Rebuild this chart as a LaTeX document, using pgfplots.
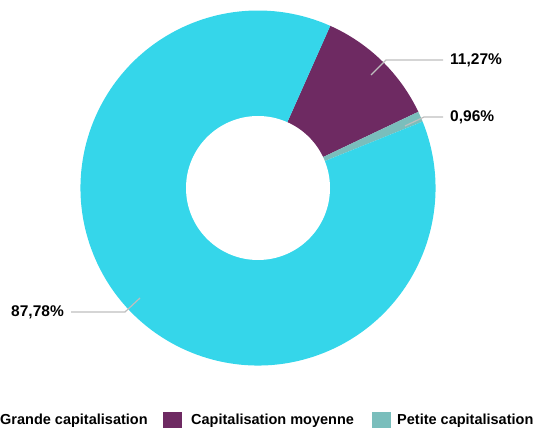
\documentclass[border=0pt]{standalone}
\usepackage{fontspec}
\setmainfont{Liberation Sans}
\usepackage{pgfplots}
\usepackage{pgfplotstable}
\pgfplotsset{compat=1.18}
\definecolor{cgrande}{HTML}{35D6EA}
\definecolor{cmoy}{HTML}{6E2A62}
\definecolor{cpetite}{HTML}{7ABEBC}
\definecolor{cline}{HTML}{BEBEBE}
\pgfplotstableread{
name value
Grande 87.78
Moyenne 11.27
Petite 0.96
}\datatable
\begin{document}
\begin{tikzpicture}
\pgfplotstablegetelem{0}{value}\of\datatable \let\vG\pgfplotsretval
\pgfplotstablegetelem{1}{value}\of\datatable \let\vM\pgfplotsretval
\pgfplotstablegetelem{2}{value}\of\datatable \let\vP\pgfplotsretval
\pgfmathsetmacro{\aS}{66}
\pgfmathsetmacro{\aA}{\aS-\vM*3.6}
\pgfmathsetmacro{\aB}{\aA-\vP*3.6}
\pgfmathsetmacro{\aC}{\aB-\vG*3.6}
\begin{axis}[
  width=535pt, height=428pt, scale only axis,
  xmin=0, xmax=535, ymin=0, ymax=428,
  hide axis, clip=false,
]
\addplot[draw=none] coordinates {(0,0)};
% slices
\fill[cmoy] (axis cs:258,240) -- ++(\aS:177.5pt) arc[start angle=\aS, end angle=\aA, radius=177.5pt] -- cycle;
\fill[cpetite] (axis cs:258,240) -- ++(\aA:177.5pt) arc[start angle=\aA, end angle=\aB, radius=177.5pt] -- cycle;
\fill[cgrande] (axis cs:258,240) -- ++(\aB:177.5pt) arc[start angle=\aB, end angle=\aC, radius=177.5pt] -- cycle;
\fill[white] (axis cs:258,240) circle[radius=72pt];
% leader lines
\draw[cline, line width=1.2pt] (axis cs:371,353) -- (axis cs:386,368) -- (axis cs:443,368);
\draw[cline, line width=1.2pt] (axis cs:405,302) -- (axis cs:424,311) -- (axis cs:443,311);
\draw[cline, line width=1.2pt] (axis cs:140,130) -- (axis cs:125,116) -- (axis cs:71,116);
\node[anchor=west, inner sep=0pt, font=\fontsize{15.5}{17}\selectfont\bfseries] at (axis cs:450,368) {11,27\%};
\node[anchor=west, inner sep=0pt, font=\fontsize{15.5}{17}\selectfont\bfseries] at (axis cs:450,311) {0,96\%};
\node[anchor=east, inner sep=0pt, font=\fontsize{15.5}{17}\selectfont\bfseries] at (axis cs:64,116) {87,78\%};
% legend
\fill[cgrande] (axis cs:-27,-3) rectangle (axis cs:-8,16);
\node[anchor=base west, inner sep=0pt, font=\fontsize{14.5}{16}\selectfont\bfseries] at (axis cs:0,4) {Grande capitalisation};
\fill[cmoy] (axis cs:163,-3) rectangle (axis cs:182,16);
\node[anchor=base west, inner sep=0pt, font=\fontsize{14.5}{16}\selectfont\bfseries] at (axis cs:191,4) {Capitalisation moyenne};
\fill[cpetite] (axis cs:372,-3) rectangle (axis cs:391,16);
\node[anchor=base west, inner sep=0pt, font=\fontsize{14.5}{16}\selectfont\bfseries] at (axis cs:397,4) {Petite capitalisation};
\end{axis}
\pgfresetboundingbox
\path[use as bounding box] (0,0) rectangle (535pt,428pt);
\end{tikzpicture}
\end{document}
